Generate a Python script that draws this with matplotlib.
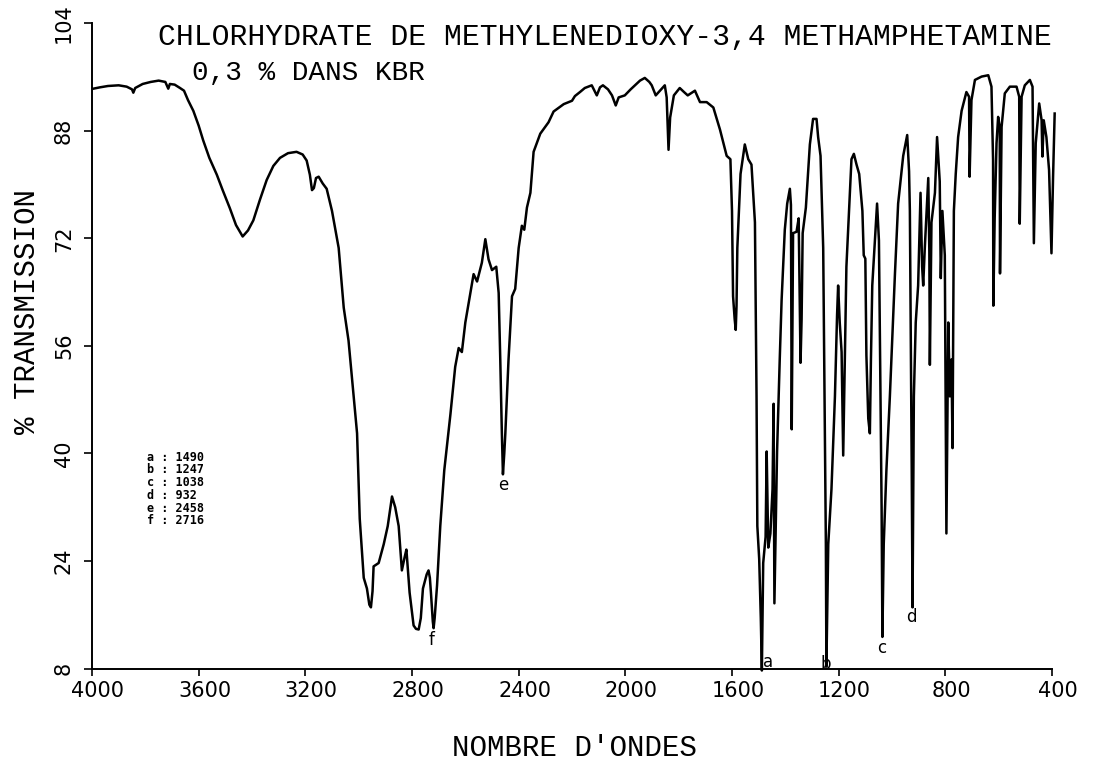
import matplotlib.pyplot as plt
import matplotlib.transforms as mtransforms

# IR trace (wavenumber in cm-1, % transmission)
wavenumber = [
    3995, 3970, 3940, 3900, 3870, 3850, 3845, 3838, 3810, 3780, 3750, 3725, 3714, 3708,
    3690, 3670, 3655, 3640, 3620, 3600, 3583, 3560, 3532, 3510, 3483, 3460, 3435, 3415,
    3395, 3370, 3345, 3320, 3295, 3265, 3233, 3210, 3195, 3183, 3175, 3168, 3160, 3150,
    3135, 3120, 3100, 3075, 3056, 3038, 3019, 3006, 2996, 2981, 2969, 2960, 2954, 2948,
    2944, 2925, 2906, 2891, 2875, 2863, 2850, 2838, 2828, 2821, 2815, 2809, 2794, 2785,
    2775, 2767, 2759, 2745, 2738, 2733, 2729, 2722, 2719, 2715, 2706, 2694, 2679, 2656,
    2638, 2625, 2613, 2600, 2581, 2569, 2556, 2538, 2525, 2513, 2500, 2484, 2475, 2469,
    2463, 2459, 2454, 2450, 2438, 2425, 2413, 2400, 2388, 2379, 2369, 2356, 2344, 2319,
    2288, 2269, 2231, 2200, 2189, 2170, 2152, 2126, 2107, 2095, 2084, 2065, 2050, 2036,
    2025, 2002, 1980, 1964, 1945, 1927, 1910, 1901, 1886, 1870, 1852, 1845, 1838, 1832,
    1818, 1796, 1780, 1766, 1739, 1720, 1695, 1670, 1645, 1620, 1606, 1600, 1596, 1590,
    1586, 1583, 1580, 1568, 1552, 1539, 1527, 1514, 1508, 1505, 1498, 1492, 1488, 1483,
    1474, 1470, 1464, 1456, 1448, 1444, 1441, 1431, 1421, 1414, 1402, 1393, 1383, 1379,
    1376, 1371, 1358, 1350, 1343, 1339, 1335, 1323, 1308, 1296, 1283, 1277, 1268, 1258,
    1253, 1248, 1246, 1239, 1227, 1214, 1206, 1202, 1196, 1189, 1183, 1177, 1171, 1161,
    1152, 1143, 1133, 1123, 1111, 1106, 1100, 1096, 1089, 1083, 1079, 1074, 1064, 1056,
    1049, 1046, 1039, 1036, 1031, 1021, 1008, 989, 977, 958, 943, 936, 933, 929,
    926, 923, 918, 911, 902, 893, 887, 883, 877, 864, 860, 858, 852, 839,
    831, 821, 817, 811, 802, 796, 789, 783, 777, 773, 768, 761, 752, 739,
    721, 711, 709, 702, 689, 664, 639, 627, 621, 620, 615, 608, 602, 596,
    595, 589, 577, 558, 533, 523, 521, 514, 502, 483, 473, 468, 461, 448,
    439, 436, 431, 421, 411, 402, 396, 390,
]
transmission = [
    94.3, 94.5, 94.7, 94.8, 94.6, 94.2, 93.7, 94.4, 95.0, 95.3, 95.5, 95.3, 94.3, 95.0,
    94.9, 94.4, 94.0, 92.6, 91.0, 88.8, 86.6, 84.0, 81.5, 79.2, 76.5, 74.0, 72.3, 73.2,
    74.7, 77.8, 80.7, 82.8, 84.0, 84.7, 84.9, 84.5, 83.6, 81.5, 79.2, 79.5, 81.0, 81.2,
    80.2, 79.4, 76.1, 70.6, 61.7, 56.8, 48.5, 43.0, 30.3, 21.5, 19.9, 17.5, 17.1, 19.5,
    23.2, 23.7, 26.5, 29.2, 33.6, 32.0, 29.2, 22.6, 24.5, 25.7, 22.5, 19.3, 14.4, 13.9,
    13.8, 15.5, 19.9, 22.0, 22.6, 21.5, 19.3, 15.0, 14.0, 15.5, 20.4, 29.2, 37.5, 45.8,
    52.9, 55.7, 55.1, 59.5, 63.9, 66.7, 65.6, 68.4, 71.9, 68.9, 67.3, 67.8, 63.9, 54.0,
    43.0, 36.9, 40.0, 43.0, 54.0, 63.4, 64.5, 70.6, 73.9, 73.3, 76.6, 78.8, 84.9, 87.6,
    89.3, 90.9, 92.0, 92.5, 93.2, 93.8, 94.4, 94.8, 93.3, 94.5, 94.8, 94.2, 93.3, 91.8,
    93.0, 93.3, 94.2, 94.8, 95.5, 95.9, 95.3, 94.8, 93.3, 94.0, 94.8, 93.0, 85.2, 90.0,
    93.3, 94.4, 93.8, 93.3, 94.0, 92.3, 92.3, 91.5, 88.2, 84.3, 83.8, 76.1, 63.4, 60.0,
    58.4, 62.0, 70.6, 81.6, 86.0, 83.8, 83.0, 74.4, 48.5, 29.2, 24.3, 15.5, 7.7, 23.7,
    27.6, 40.3, 26.0, 28.1, 34.7, 47.4, 17.7, 40.3, 54.0, 62.8, 73.3, 77.2, 79.4, 77.0,
    43.6, 72.8, 73.0, 75.0, 53.5, 60.0, 72.8, 76.6, 86.0, 89.8, 89.8, 87.1, 84.3, 70.6,
    48.5, 26.5, 8.3, 26.5, 34.7, 48.5, 60.6, 65.0, 59.5, 55.1, 39.7, 54.0, 67.8, 76.1,
    83.8, 84.6, 83.0, 81.6, 76.1, 69.5, 69.0, 54.6, 45.2, 43.0, 54.0, 65.0, 71.7, 77.2,
    71.7, 59.5, 32.0, 12.7, 26.5, 37.5, 48.5, 66.7, 77.2, 84.3, 87.4, 82.0, 76.1, 54.0,
    37.5, 17.1, 48.5, 59.5, 65.0, 78.8, 67.8, 65.0, 70.6, 81.0, 70.0, 53.2, 74.4, 78.8,
    87.1, 80.5, 66.1, 76.1, 69.5, 28.1, 59.5, 48.5, 54.0, 40.8, 76.1, 81.6, 87.1, 91.0,
    93.8, 93.1, 81.2, 92.6, 95.6, 96.1, 96.3, 94.6, 83.7, 62.0, 75.0, 86.2, 90.1, 88.6,
    66.8, 88.6, 93.6, 94.6, 94.6, 93.1, 74.2, 93.1, 94.8, 95.6, 94.6, 71.3, 86.2, 92.1,
    89.6, 84.2, 89.6, 87.1, 82.2, 69.8, 81.2, 90.6,
]

x_ticks = [4000, 3600, 3200, 2800, 2400, 2000, 1600, 1200, 800, 400]
x_tick_labels = ["4000", "3600", "3200", "2800", "2400", "2000", "1600", "1200", "800", "400"]
y_ticks = [8, 24, 40, 56, 72, 88, 104]

# band letters and where they sit under the peaks
band_letters = ["a", "b", "c", "d", "e", "f"]
band_wn = [1466, 1248, 1038, 926, 2459, 2725]
band_t = [9.0, 8.7, 11.1, 15.7, 35.3, 12.2]

legend_lines = ["a : 1490", "b : 1247", "c : 1038", "d : 932", "e : 2458", "f : 2716"]

title_1 = "CHLORHYDRATE DE METHYLENEDIOXY-3,4 METHAMPHETAMINE"
title_2 = "0,3 % DANS KBR"

W, H = 1105, 766
fig = plt.figure(figsize=(W / 100, H / 100), dpi=100)
ax = fig.add_axes([92 / W, 1 - 668.5 / H, 960 / W, 645 / H])

ax.plot(wavenumber, transmission, color="black", lw=1.8, clip_on=False,
        solid_joinstyle="round")

ax.set_xlim(4000, 400)
ax.set_ylim(8, 104)
ax.set_xticks(x_ticks)
ax.set_xticklabels(x_tick_labels)
ax.set_yticks(y_ticks)

for side in ("top", "right"):
    ax.spines[side].set_visible(False)
for side in ("left", "bottom"):
    ax.spines[side].set_linewidth(1.4)

ax.tick_params(axis="x", direction="out", length=5, width=1.2, labelsize=15, pad=4)
ax.tick_params(axis="y", direction="out", length=6, width=1.2, labelsize=15, pad=7,
               labelrotation=90)
for lab in ax.get_yticklabels():
    lab.set_va("center")

# the printed numbers sit a little right of their ticks
shift = mtransforms.ScaledTranslation(6 / 100, 0, fig.dpi_scale_trans)
for lab in ax.get_xticklabels():
    lab.set_transform(lab.get_transform() + shift)

for letter, wn, t in zip(band_letters, band_wn, band_t):
    ax.text(wn, t, letter, ha="center", va="center", fontsize=12, clip_on=False)

mono = "Liberation Mono"
fig.text(158 / W, 1 - 45 / H, title_1, family=mono, fontsize=21.4, ha="left", va="baseline")
fig.text(192 / W, 1 - 80 / H, title_2, family=mono, fontsize=20, ha="left", va="baseline")
fig.text(575 / W, 1 - 748 / H, "NOMBRE D'ONDES", family=mono, fontsize=21,
         ha="center", va="center")
fig.text(27 / W, 1 - 312 / H, "% TRANSMISSION", family=mono, fontsize=21,
         ha="center", va="center", rotation=90)

for i, line in enumerate(legend_lines):
    fig.text(147 / W, 1 - (457 + i * 12.8) / H, line, family="DejaVu Sans Mono",
             fontweight="bold", fontsize=8.5, ha="left", va="center")

fig.savefig("out.png", dpi=100)
